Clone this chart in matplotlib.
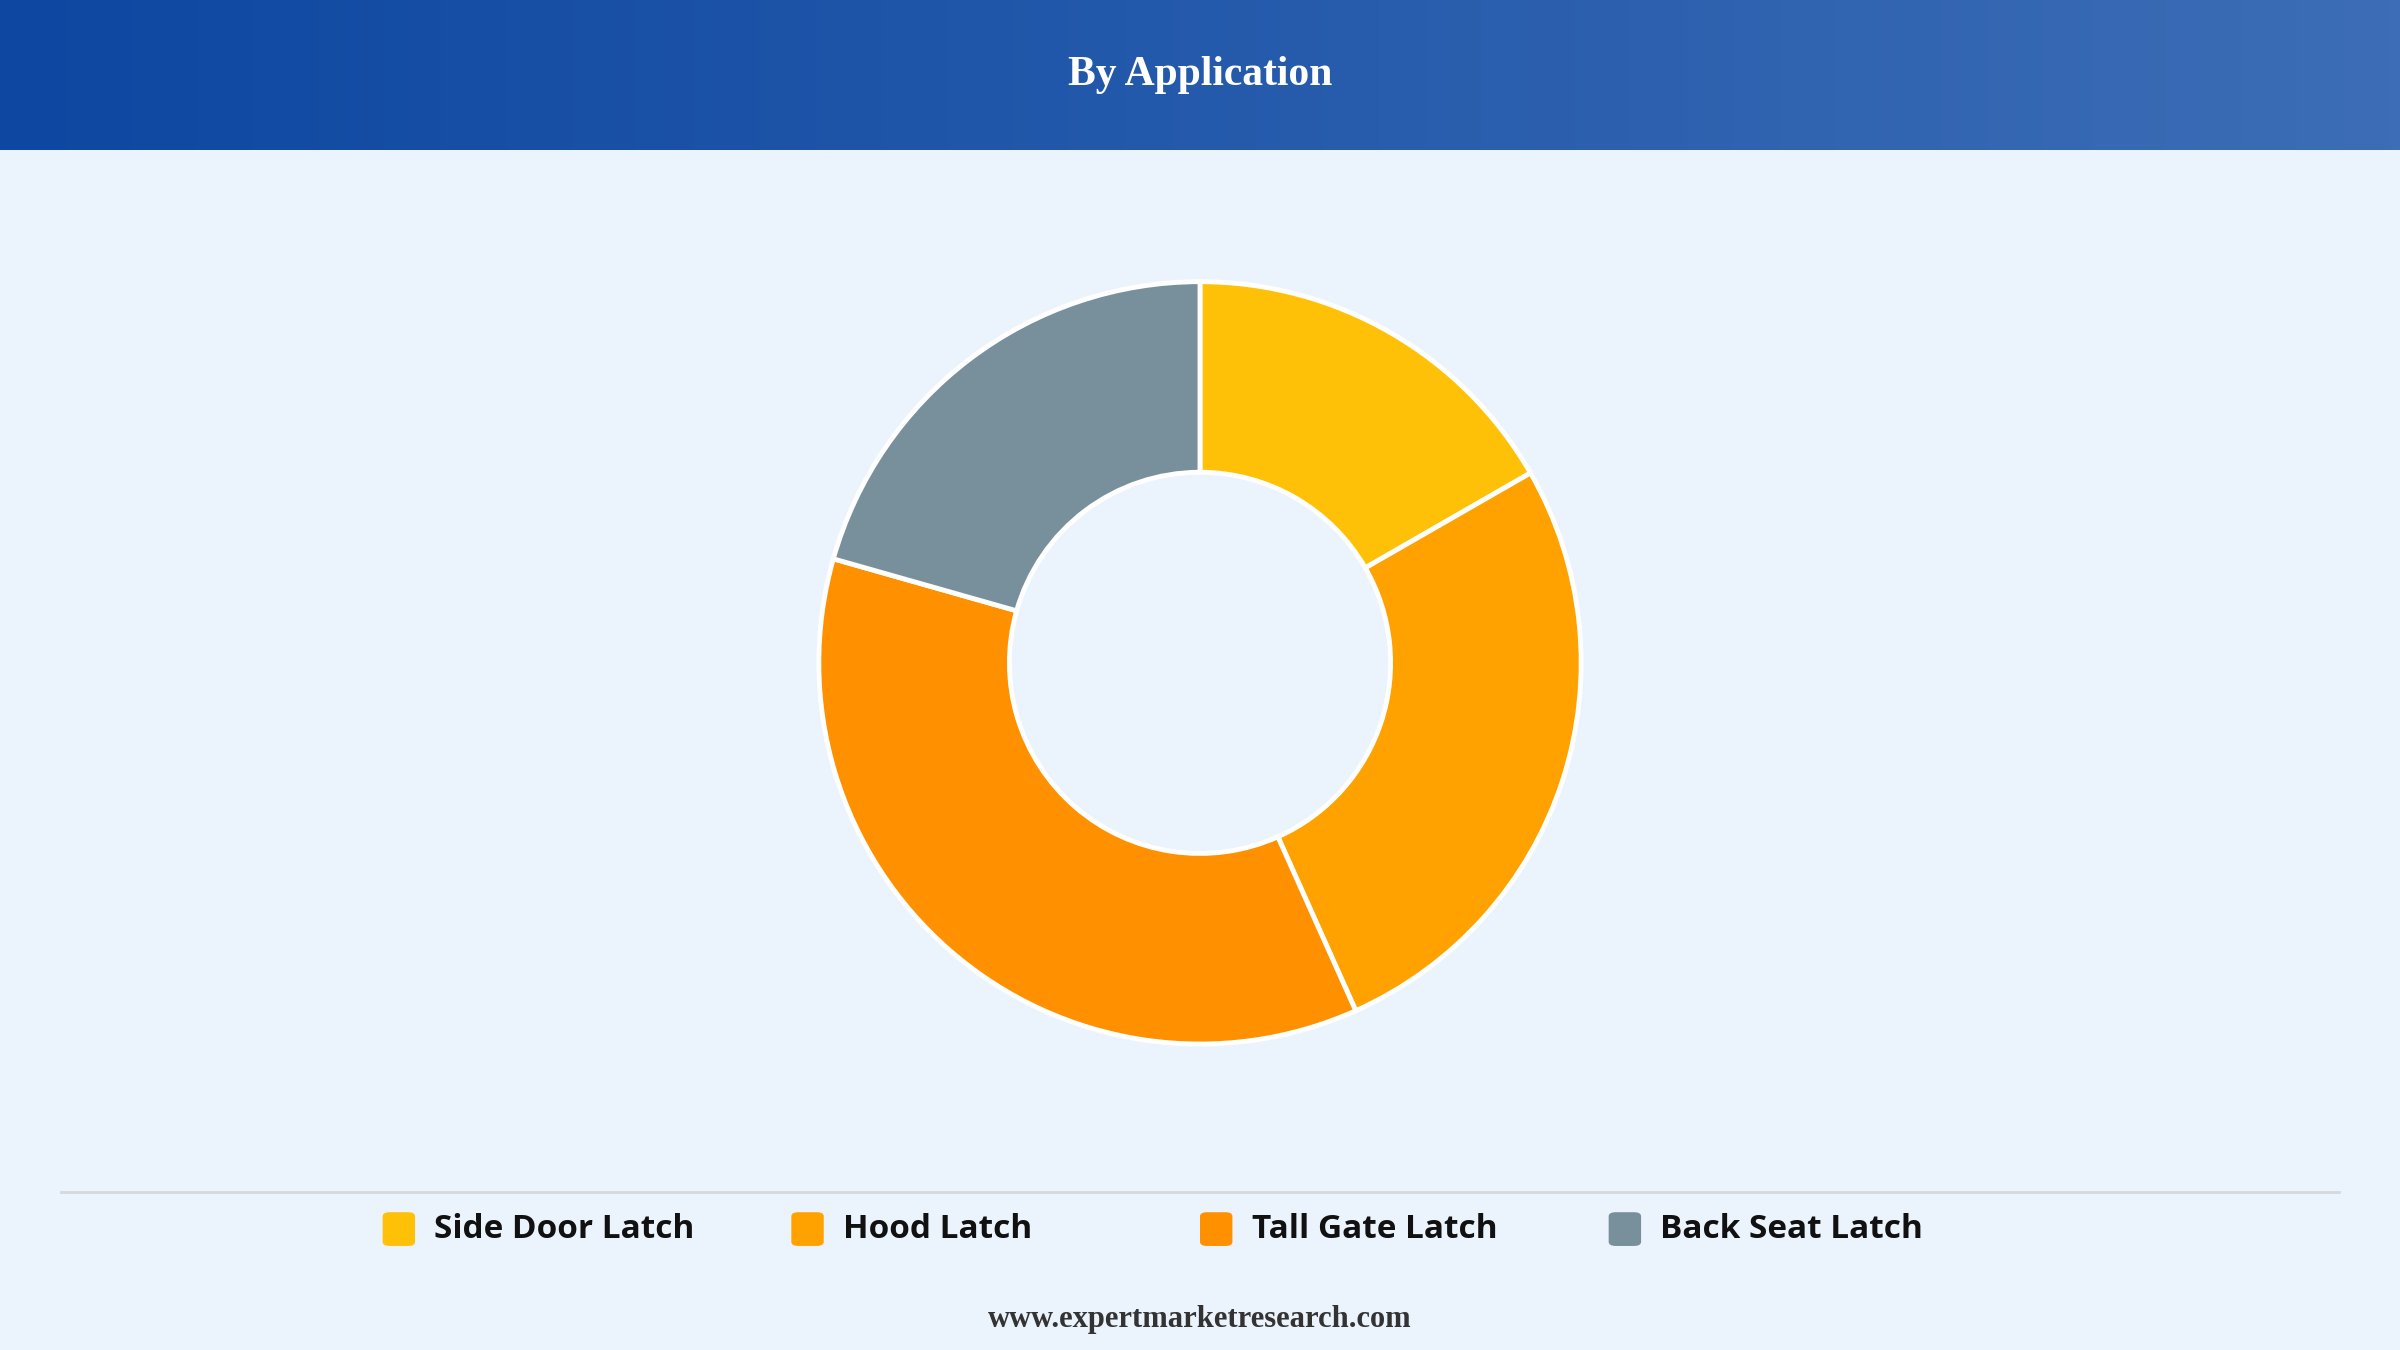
import numpy as np
import matplotlib.pyplot as plt
from matplotlib.patches import Rectangle, FancyBboxPatch

labels = ['Side Door Latch', 'Hood Latch', 'Tall Gate Latch', 'Back Seat Latch']
shares = [16.7, 26.6, 36.1, 20.6]
colors = ['#FFC107', '#FFA200', '#FF9100', '#78909C']

bg = '#EBF3FC'
fig = plt.figure(figsize=(24, 13.5), dpi=100)
fig.patch.set_facecolor(bg)

# header band with gradient
hdr = fig.add_axes([0, 1 - 98 / 882, 1, 98 / 882])
grad = np.linspace(0, 1, 256).reshape(1, -1)
from matplotlib.colors import LinearSegmentedColormap
cm = LinearSegmentedColormap.from_list('hdr', ['#0D47A1', '#3C6DB6'])
hdr.imshow(grad, aspect='auto', cmap=cm, extent=[0, 1, 0, 1])
hdr.set_axis_off()
hdr.text(0.5, 0.5, 'By Application', color='white', ha='center', va='center',
         fontsize=30, fontweight='bold', family='Liberation Serif')

# donut
ax = fig.add_axes([0.5 - 0.162, 0.509 - 0.288, 0.324, 0.576])
ax.pie(shares, colors=colors, startangle=90, counterclock=False, radius=1,
       wedgeprops=dict(width=0.5, edgecolor='white', linewidth=3.5))
ax.set_xlim(-1.02, 1.02)
ax.set_ylim(-1.02, 1.02)
ax.set_aspect('equal')
ax.set_axis_off()

# separator
fig.add_artist(plt.Line2D([40 / 1568, 1528 / 1568], [1 - 779 / 882] * 2,
                          color='#D5D9DE', lw=2))

# legend
ly = 1 - 803 / 882
for i, (lab, c) in enumerate(zip(labels, colors)):
    x0 = (250 + 267 * i) / 1568
    fig.add_artist(FancyBboxPatch((x0, ly - 0.0125), 0.0135, 0.025,
                                  boxstyle='round,pad=0,rounding_size=0.003',
                                  facecolor=c, edgecolor='none',
                                  transform=fig.transFigure))
    fig.text(x0 + 0.0215, ly, lab, ha='left', va='center', fontsize=24,
             fontweight='bold', family='Open Sans', color='#111111')

fig.text(0.5, 1 - 862 / 882, 'www.expertmarketresearch.com', ha='center',
         va='center', fontsize=22, fontweight='bold', family='Liberation Serif',
         color='#333333')

fig.savefig('out.png', dpi=100, facecolor=bg)
